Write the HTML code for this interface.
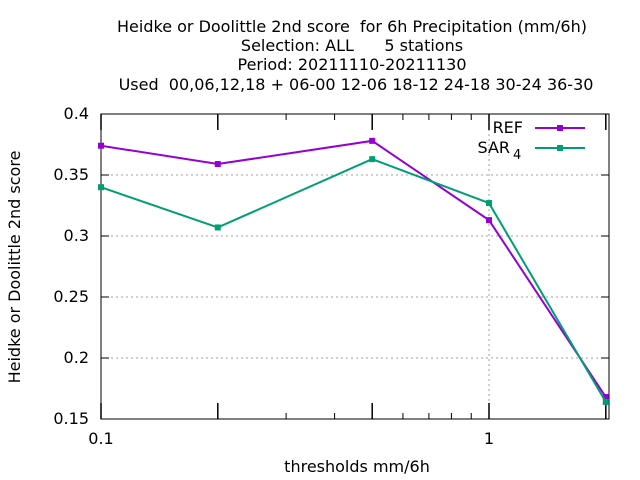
<!DOCTYPE html>
<html><head><meta charset="utf-8"><style>
body{margin:0;background:#fff}
svg{display:block;font-family:"DejaVu Sans","Liberation Sans",sans-serif}
text{white-space:pre}
</style></head><body>
<svg id="c" width="640" height="480">
<g font-size="16" text-anchor="middle" fill="#000">
<text x="352" y="32">Heidke or Doolittle 2nd score  for 6h Precipitation (mm/6h)</text>
<text x="352" y="51">Selection: ALL      5 stations</text>
<text x="352" y="70">Period: 20211110-20211130</text>
<text x="356" y="90">Used  00,06,12,18 + 06-00 12-06 18-12 24-18 30-24 36-30</text>
</g>
<text transform="translate(20,267) rotate(-90)" text-anchor="middle" font-size="16">Heidke or Doolittle 2nd score</text>
<text x="357" y="472" text-anchor="middle" font-size="16">thresholds mm/6h</text>
<g id="grid"></g><g id="axes"></g><g id="series"></g>
<g font-size="16">
<text x="523" y="133" text-anchor="end">REF</text>
<line x1="535" y1="128" x2="585" y2="128" stroke="#9400d3" stroke-width="2"/>
<rect x="557" y="125" width="6" height="6" fill="#9400d3"/>
<text x="510" y="153" text-anchor="end">SAR</text>
<text x="513" y="159" font-size="13">4</text>
<line x1="535" y1="148" x2="585" y2="148" stroke="#009e73" stroke-width="2"/>
<rect x="557" y="145" width="6" height="6" fill="#009e73"/>
</g>
</svg>
<script>
const thresholds=[0.1,0.2,0.5,1,2];
const refValues=[0.374,0.359,0.378,0.313,0.168];
const sarValues=[0.340,0.307,0.363,0.327,0.164];
const yTicks=[0.15,0.2,0.25,0.3,0.35,0.4];
const yTickLabels=["0.15","0.2","0.25","0.3","0.35","0.4"];
const xTickLabels=["0.1","1"];
const NS="http://www.w3.org/2000/svg";
const L=101,R=609,T=114,B=419,DEC=388;
const xs=v=>L+(Math.log10(v)-Math.log10(0.1))*DEC;
const ys=v=>B-(v-0.15)/(0.4-0.15)*(B-T);
function mk(p,t,a){const e=document.createElementNS(NS,t);for(const k in a)e.setAttribute(k,a[k]);document.getElementById(p).appendChild(e);return e;}
yTicks.forEach((v,i)=>{const y=ys(v);
 if(i>0&&i<yTicks.length-1){const g=mk('grid','line',{x1:L,x2:R,y1:y,y2:y,stroke:'#a0a0a0','stroke-dasharray':'2,3'});
 
 }
 mk('axes','line',{x1:L,x2:L+8,y1:y,y2:y,stroke:'#000'});
 mk('axes','line',{x1:R,x2:R-8,y1:y,y2:y,stroke:'#000'});
 const t=mk('axes','text',{x:L-12,y:y+5,'text-anchor':'end','font-size':16});t.textContent=yTickLabels[i];
 
 
});
mk('grid','line',{x1:xs(1),x2:xs(1),y1:T,y2:B,stroke:'#a0a0a0','stroke-dasharray':'2,3'});
thresholds.forEach(v=>{const x=xs(v);mk('axes','line',{x1:x,x2:x,y1:B,y2:B-16,stroke:'#000','stroke-width':1.5});mk('axes','line',{x1:x,x2:x,y1:T,y2:T+16,stroke:'#000','stroke-width':1.5});});
[0.3,0.4,0.6,0.7,0.8,0.9].forEach(v=>{const x=xs(v);mk('axes','line',{x1:x,x2:x,y1:B,y2:B-6,stroke:'#000'});mk('axes','line',{x1:x,x2:x,y1:T,y2:T+6,stroke:'#000'});});
[0.1,1].forEach((v,i)=>{const t=mk('axes','text',{x:xs(v),y:B+25,'text-anchor':'middle','font-size':16});t.textContent=xTickLabels[i];
 
 });
const fr=mk('axes','rect',{x:L,y:T,width:R-L,height:B-T,fill:'none',stroke:'#000'});


function series(vals,col,name){
 const pl=mk('series','polyline',{points:thresholds.map((t,i)=>xs(t)+','+ys(vals[i])).join(' '),fill:'none',stroke:col,'stroke-width':2});
 
 
 vals.forEach((v,i)=>{const m=mk('series','rect',{x:xs(thresholds[i])-3,y:ys(v)-3,width:6,height:6,fill:col});
 
 });
}
series(refValues,'#9400d3','ref');
series(sarValues,'#009e73','sar');
</script>
</body></html>
